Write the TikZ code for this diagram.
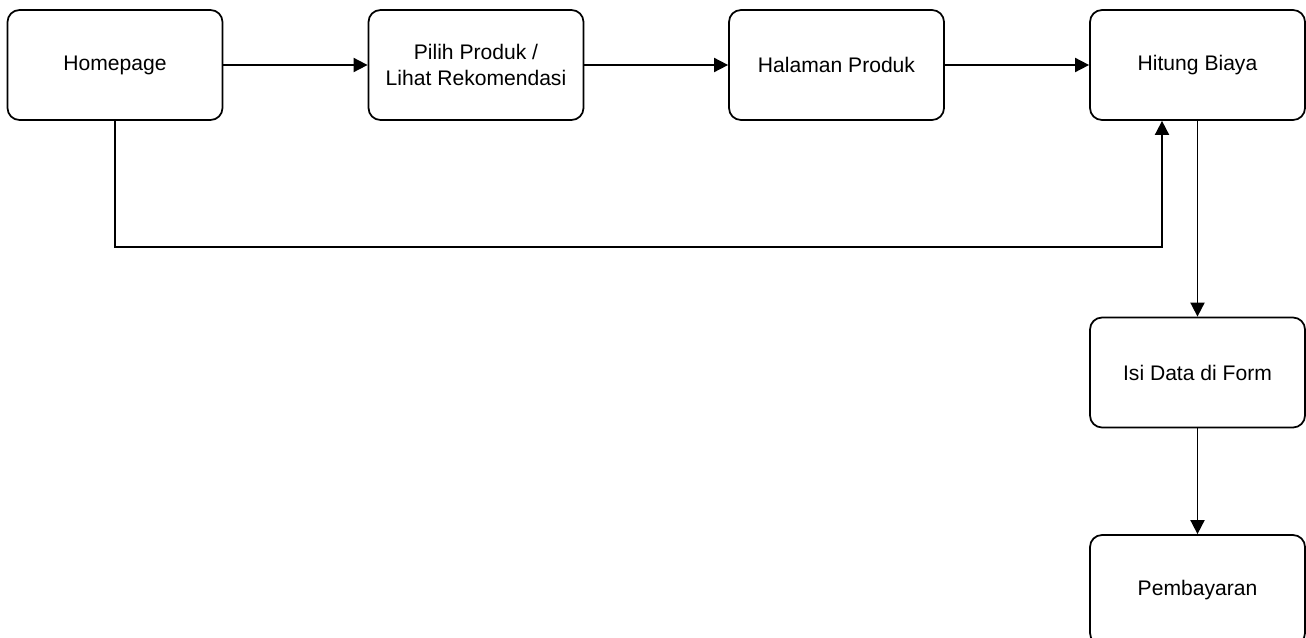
\documentclass[tikz,border=0pt]{standalone}
\usepackage{fontspec}
\setmainfont{Liberation Sans}
\usepackage{tikz}
\usetikzlibrary{arrows.meta,positioning}

\tikzset{
    pagebox/.style={draw, line width=1pt, rounded corners=0.24cm,
        minimum width=4.3cm, minimum height=2.2cm, align=center,
        font=\fontsize{12}{15}\selectfont},
    flow/.style={line width=1pt, -{Stealth[length=8pt,width=8pt,inset=0pt]}}
}

\begin{document}
\begin{tikzpicture}
        \useasboundingbox (0,0) rectangle (26.12,-12.76);

        % Draw the top row of pages
        \node[pagebox] (home) at (2.30,-1.30) {Homepage};
        \node[pagebox] (pilih) at (9.52,-1.30) {Pilih Produk /\\Lihat Rekomendasi};
        \node[pagebox] (halaman) at (16.73,-1.30) {Halaman Produk};
        \node[pagebox] (hitung) at (23.95,-1.30) {Hitung Biaya};

        % Draw the right column
        \node[pagebox] (isi) at (23.95,-7.45) {Isi Data di Form};
        \node[pagebox] (bayar) at (23.95,-11.80) {Pembayaran};

        % Draw the arrows between the pages
        \draw[flow] (home) -- (pilih);
        \draw[flow] (pilih) -- (halaman);
        \draw[flow] (halaman) -- (hitung);
        \draw[flow] (hitung) -- (isi);
        \draw[flow] (isi) -- (bayar);

        % Draw the shortcut from the homepage
        \coordinate (kanan) at ([xshift=-0.71cm,yshift=-2.52cm]hitung.south);
        \draw[flow] (home.south) |- (kanan) -- (kanan |- hitung.south);
        \end{tikzpicture}
\end{document}
